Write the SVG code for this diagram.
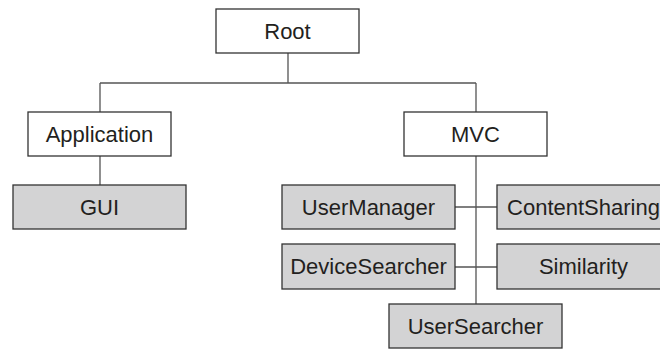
<svg xmlns="http://www.w3.org/2000/svg" width="660" height="349" viewBox="0 0 660 349">
<style>
.b{fill:#fff;stroke:#333;stroke-width:1.3}
.g{fill:#d3d3d4;stroke:#333;stroke-width:1.3}
text{font-family:"Liberation Sans",Arial,sans-serif;font-size:22px;fill:#231f20;text-anchor:middle}
#connectors path{fill:none;stroke:#555;stroke-width:1.3}
</style>
<rect width="660" height="349" fill="#fff"/>
<g id="connectors">
<path d="M288 53V83M100 83H476M100 83V112M100 156V185M476 83V112M476 156V304M455 207H497M455 267H497"/>
</g>
<g id="root"><rect class="b" x="216" y="9" width="143" height="44"/><text x="287.5" y="38.7">Root</text></g>
<g id="application"><rect class="b" x="28" y="112" width="143" height="44"/><text x="99.5" y="141.7">Application</text></g>
<g id="mvc"><rect class="b" x="404" y="112" width="143" height="44"/><text x="475.5" y="141.7">MVC</text></g>
<g id="gui"><rect class="g" x="13" y="185" width="173" height="44"/><text x="99.5" y="214.7">GUI</text></g>
<g id="usermanager"><rect class="g" x="282" y="185" width="173" height="44"/><text x="368.5" y="214.7">UserManager</text></g>
<g id="contentsharing"><rect class="g" x="497" y="185" width="173" height="44"/><text x="583.5" y="214.7">ContentSharing</text></g>
<g id="devicesearcher"><rect class="g" x="282" y="244" width="173" height="45"/><text x="368.5" y="274.2">DeviceSearcher</text></g>
<g id="similarity"><rect class="g" x="497" y="244" width="173" height="45"/><text x="583.5" y="274.2">Similarity</text></g>
<g id="usersearcher"><rect class="g" x="389" y="304" width="173" height="44"/><text x="475.5" y="333.7">UserSearcher</text></g>
</svg>
